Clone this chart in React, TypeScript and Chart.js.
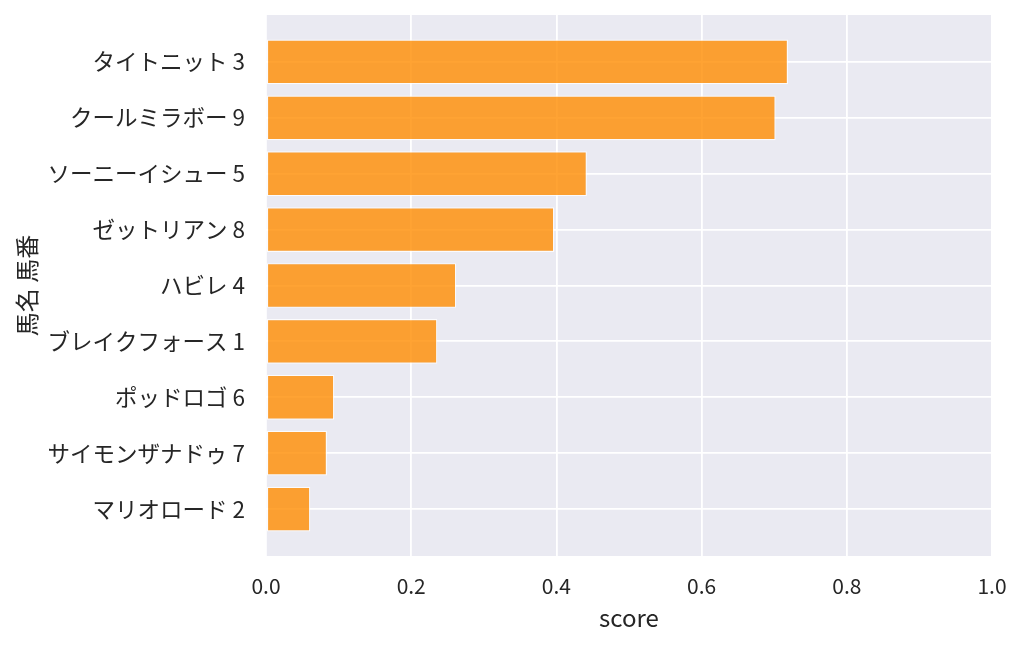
import { useEffect, useRef } from "react";
import { Chart, registerables } from "chart.js";
Chart.register(...registerables);

// horses, top to bottom
const horseNames = [
  "タイトニット 3",
  "クールミラボー 9",
  "ソーニーイシュー 5",
  "ゼットリアン 8",
  "ハビレ 4",
  "ブレイクフォース 1",
  "ポッドロゴ 6",
  "サイモンザナドゥ 7",
  "マリオロード 2",
];
const scores = [0.719, 0.702, 0.442, 0.397, 0.262, 0.236, 0.094, 0.084, 0.061];
const xTicks = [0, 0.2, 0.4, 0.6, 0.8, 1.0];

const FONT = "'Noto Sans CJK JP', 'Noto Sans', sans-serif";
const TEXT = "#262626";

// fills the plot area with the seaborn grey before anything else is drawn
const plotBackground = {
  id: "plotBackground",
  beforeDraw: (chart: any) => {
    const { ctx, chartArea } = chart;
    ctx.save();
    ctx.fillStyle = "#EAEAF2";
    ctx.fillRect(chartArea.left, chartArea.top, chartArea.right - chartArea.left, chartArea.bottom - chartArea.top);
    ctx.restore();
  },
};

const App = () => {
  const chartRef = useRef<HTMLCanvasElement | null>(null);
  const chartInstance = useRef<Chart | null>(null);

  useEffect(() => {
    if (!chartRef.current) return;
    const ctx = chartRef.current.getContext("2d");
    if (!ctx) return;

    if (chartInstance.current) chartInstance.current.destroy();

    chartInstance.current = new Chart(ctx, {
      type: "bar",
      data: {
        datasets: [
          {
            label: "score",
            data: scores.map((s, i) => ({ x: s, y: i })),
            backgroundColor: "rgba(255, 140, 0, 0.8)",
            borderColor: "rgba(255, 255, 255, 0.8)",
            borderWidth: 1.2,
            borderSkipped: false,
            barPercentage: 1,
            categoryPercentage: 0.8,
          },
        ],
      },
      options: {
        indexAxis: "y",
        responsive: false,
        animation: false,
        devicePixelRatio: 1,
        layout: { padding: { left: 0, top: 15, right: 32, bottom: 0 } },
        plugins: {
          legend: { display: false },
          tooltip: { enabled: false },
        },
        scales: {
          x: {
            type: "linear",
            min: 0,
            max: 1,
            afterBuildTicks: (scale: any) => {
              scale.ticks = xTicks.map((v) => ({ value: v }));
            },
            afterFit: (scale: any) => {
              scale.height = 92;
            },
            grid: { color: "#ffffff", lineWidth: 1.8, drawTicks: false },
            border: { display: false },
            ticks: {
              padding: 17,
              color: TEXT,
              font: { family: FONT, size: 21 },
              callback: (v: any) => Number(v).toFixed(1),
            },
            title: {
              display: true,
              text: "score",
              color: TEXT,
              font: { family: FONT, size: 24 },
              padding: { top: 0, bottom: 16 },
            },
          },
          y: {
            type: "linear",
            reverse: true,
            offset: false,
            min: -0.84,
            max: 8.84,
            afterBuildTicks: (scale: any) => {
              scale.ticks = horseNames.map((_, i) => ({ value: i }));
            },
            afterFit: (scale: any) => {
              scale.width = 266;
              // labels sit well inside the axis, no extra room needed above/below
              scale.paddingTop = 0;
              scale.paddingBottom = 0;
            },
            grid: { color: "#ffffff", lineWidth: 1.8, drawTicks: false, offset: false },
            border: { display: false },
            ticks: {
              padding: 21,
              color: TEXT,
              font: { family: FONT, size: 22.5 },
              callback: (v: any) => horseNames[Number(v)] ?? "",
            },
            title: {
              display: true,
              text: "馬名 馬番",
              color: TEXT,
              font: { family: FONT, size: 24 },
              padding: { top: 12, bottom: 0 },
            },
          },
        },
      },
      plugins: [plotBackground],
    });

    return () => {
      if (chartInstance.current) {
        chartInstance.current.destroy();
        chartInstance.current = null;
      }
    };
  }, []);

  return (
    <div style={{ position: "fixed", left: 0, top: 0, width: 1024, height: 648, background: "#ffffff" }}>
      <canvas ref={chartRef} width={1024} height={648}></canvas>
    </div>
  );
};

export default App;
